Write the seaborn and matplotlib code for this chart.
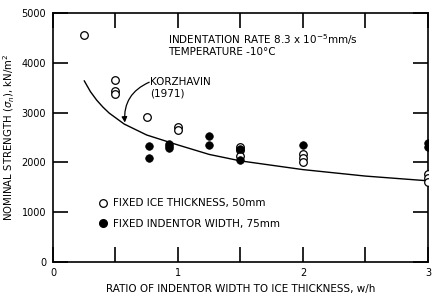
import seaborn as sns
import pandas as pd
import matplotlib.pyplot as plt
from matplotlib.lines import Line2D

sns.set_theme(style='ticks', rc={'axes.linewidth': 1.2, 'text.color': 'black',
                                 'axes.labelcolor': 'black', 'xtick.color': 'black',
                                 'ytick.color': 'black', 'axes.edgecolor': 'black'})
plt.rcParams['font.family'] = ['DejaVu Sans']

# fixed ice thickness, 50 mm (open circles)
open_x = [0.25, 0.5, 0.5, 0.5, 0.75, 1.0, 1.0, 1.5, 1.5, 1.5, 2.0, 2.0, 2.0, 3.0, 3.0, 3.0]
open_y = [4550, 3650, 3440, 3380, 2920, 2710, 2650, 2300, 2250, 2120, 2170, 2080, 2000, 1760, 1680, 1600]

# fixed indentor width, 75 mm (filled circles)
filled_x = [0.77, 0.77, 0.93, 0.93, 0.93, 1.25, 1.25, 1.5, 1.5, 2.0, 3.0, 3.0]
filled_y = [2330, 2080, 2370, 2330, 2290, 2520, 2340, 2270, 2050, 2340, 2380, 2300]

# Korzhavin (1971) curve
korz_x = [0.25, 0.3, 0.35, 0.4, 0.45, 0.57, 0.75, 1.0, 1.25, 1.5, 2.0, 2.5, 3.0]
korz_y = [3640, 3420, 3250, 3110, 2990, 2770, 2550, 2350, 2160, 2030, 1855, 1725, 1630]

open_df = pd.DataFrame({'ratio': open_x, 'strength': open_y})
filled_df = pd.DataFrame({'ratio': filled_x, 'strength': filled_y})
korz_df = pd.DataFrame({'ratio': korz_x, 'strength': korz_y})

fig = plt.figure(figsize=(4.34, 2.96), dpi=100)
ax = fig.add_axes([0.122, 0.115, 0.864, 0.841])

sns.lineplot(data=korz_df, x='ratio', y='strength', ax=ax, color='black', lw=1.0)
sns.scatterplot(data=open_df, x='ratio', y='strength', ax=ax, marker='o', s=30,
                facecolor='white', edgecolor='black', linewidth=0.9, zorder=3)
sns.scatterplot(data=filled_df, x='ratio', y='strength', ax=ax, marker='o', s=30,
                color='black', edgecolor='black', linewidth=0.5, zorder=4)

ax.set_xlim(0, 3)
ax.set_ylim(0, 5000)
ax.set_xticks([0, 0.5, 1, 1.5, 2, 2.5, 3])
ax.set_xticklabels(['0', '', '1', '', '2', '', '3'])
ax.set_yticks([0, 1000, 2000, 3000, 4000, 5000])
ax.tick_params(direction='in', length=11, width=1.2, top=True, right=True,
               bottom=True, left=True, labelsize=7, colors='black')
ax.tick_params(axis='x', pad=4)
ax.tick_params(axis='y', pad=5)

ax.set_xlabel('RATIO OF INDENTOR WIDTH TO ICE THICKNESS, w/h', fontsize=7.5, labelpad=5)
ax.set_ylabel(r'NOMINAL STRENGTH ($\sigma_n$), kN/m$^2$', fontsize=7.3, labelpad=3)

ax.text(0.92, 4460, r'INDENTATION RATE 8.3 x 10$^{-5}$mm/s', fontsize=7.5, va='center')
ax.text(0.92, 4220, 'TEMPERATURE -10°C', fontsize=7.5, va='center')
ax.text(0.78, 3620, 'KORZHAVIN', fontsize=7.5, va='center')
ax.text(0.78, 3380, '(1971)', fontsize=7.5, va='center')
ax.annotate('', xy=(0.575, 2800), xytext=(0.77, 3610),
            arrowprops=dict(arrowstyle='-|>', color='black', lw=0.9,
                            connectionstyle='arc3,rad=0.35', shrinkA=0, shrinkB=0,
                            mutation_scale=8))

handles = [Line2D([], [], marker='o', ls='none', markerfacecolor='white', markeredgecolor='black',
                  markersize=5.5, markeredgewidth=0.9),
           Line2D([], [], marker='o', ls='none', markerfacecolor='black', markeredgecolor='black',
                  markersize=5.5)]
ax.legend(handles, ['FIXED ICE THICKNESS, 50mm', 'FIXED INDENTOR WIDTH, 75mm'],
          loc='center left', bbox_to_anchor=(0.095, 0.195), frameon=False, fontsize=7.5,
          handletextpad=0.4, labelspacing=1.0, handlelength=1.0)

fig.savefig('out.png', dpi=100)
